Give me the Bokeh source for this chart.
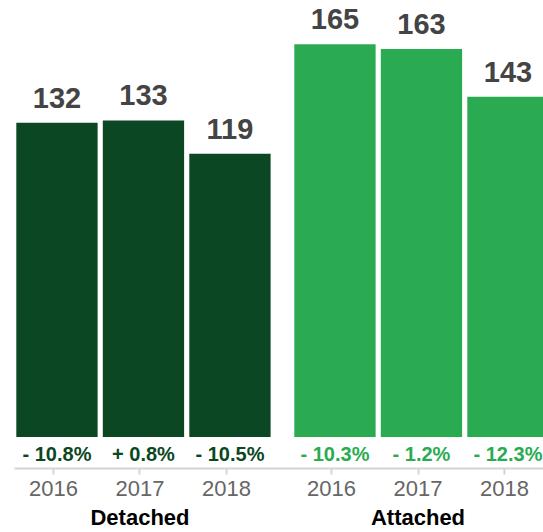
from bokeh.plotting import figure
from bokeh.models import FactorRange, Range1d, ColumnDataSource
from bokeh.core.properties import value
from bokeh.transform import dodge
from bokeh.embed import file_html
from bokeh.resources import INLINE

groups = ["Detached", "Attached"]
years = ["2016", "2017", "2018"]
detached = [132, 133, 119]
attached = [165, 163, 143]
detached_change = ["- 10.8%", "+ 0.8%", "- 10.5%"]
attached_change = ["- 10.3%", "- 1.2%", "- 12.3%"]

DARK = "#0b4722"
LIGHT = "#2bab51"
FONT = "Liberation Sans"

factors = [(g, y) for g in groups for y in years]
vals = detached + attached
changes = detached_change + attached_change
colors = [DARK] * len(years) + [LIGHT] * len(years)

src = ColumnDataSource(dict(
    x=factors,
    top=vals,
    label=[str(v) for v in vals],
    change=changes,
    color=colors,
    zero=[0] * len(vals),
))

x_range = FactorRange(*factors, group_padding=0.214, range_padding=-0.0158)
p = figure(x_range=x_range, y_range=Range1d(-13.24, 183.4),
           width=543, height=532, output_backend="svg", toolbar_location=None,
           min_border_left=14, min_border_right=0, min_border_top=0,
           min_border_bottom=64)

xs = dodge("x", 0.04, range=x_range)

p.vbar(x=xs, top="top", bottom=0, width=0.94, fill_color="color",
       line_color=None, source=src)

p.text(x=xs, y="top", text="label", source=src, text_align="center",
       text_baseline="alphabetic", y_offset=-25,
       text_font=value(FONT), text_font_style="bold", text_font_size="29px",
       text_color="#444444")

p.text(x=xs, y="zero", text="change", source=src, text_align="center",
       text_baseline="alphabetic", y_offset=17,
       text_font=value(FONT), text_font_style="bold", text_font_size="20px",
       text_color="color")

p.yaxis.visible = False
p.grid.visible = False
p.outline_line_color = None

ax = p.xaxis[0]
ax.axis_label = None
ax.axis_label_standoff = 0
ax.axis_line_color = "#d4d4d4"
ax.axis_line_width = 2
ax.major_tick_line_color = "#d4d4d4"
ax.major_tick_line_width = 2
ax.major_tick_in = 0
ax.major_tick_out = 6
ax.minor_tick_line_color = None
ax.separator_line_color = None
ax.major_label_standoff = 6
ax.major_label_text_font = FONT
ax.major_label_text_font_size = "22px"
ax.major_label_text_color = "#666666"
ax.group_text_font = FONT
ax.group_text_font_size = "22px"
ax.group_text_font_style = "bold"
ax.group_text_color = "#000000"

open("out.html", "w").write(file_html(p, INLINE))
